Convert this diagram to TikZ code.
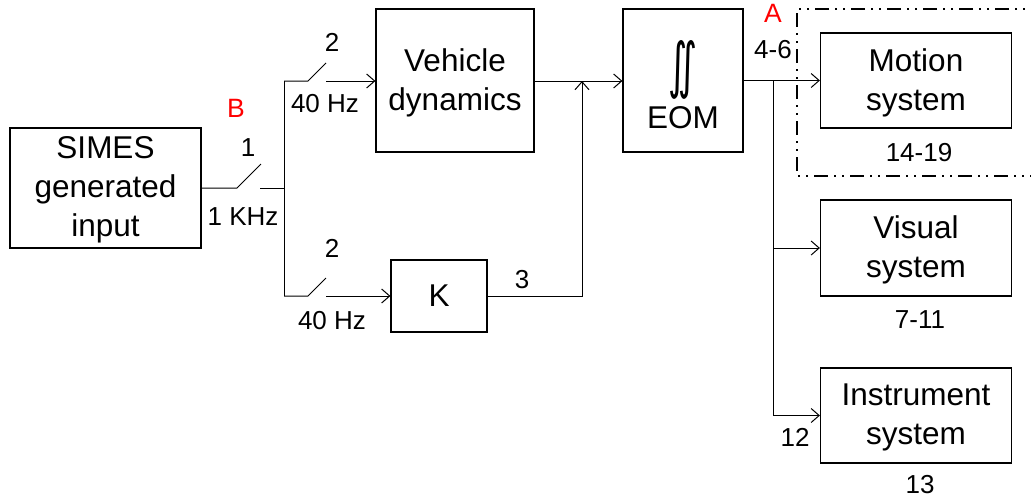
\documentclass[tikz,border=0pt]{standalone}
\usepackage{fontspec}
\setmainfont{Liberation Sans}
\newfontfamily\djvfont{DejaVu Sans}
\usetikzlibrary{arrows.meta}
\begin{document}
\begin{tikzpicture}[x=1pt,y=-1pt, line width=1pt,
 blk/.style={draw, line width=1.2pt, inner sep=0pt, align=center, font=\fontsize{31.5}{39}\selectfont},
 btxt/.style={inner sep=0pt, align=center, font=\fontsize{31.5}{39}\selectfont},
 lbl/.style={inner sep=0pt, font=\fontsize{26}{30}\selectfont},
 redlbl/.style={inner sep=0pt, text=red, font=\fontsize{26.5}{30}\selectfont},
 arr/.style={-{Straight Barb[length=8pt,width=14pt]}},
 ddbox/.style={line width=2.5pt, dash pattern=on 14pt off 6pt on 2pt off 6pt on 2pt off 6pt}
]
\useasboundingbox (0,0) rectangle (1031,501);
% blocks
\node[blk, minimum width=191pt, minimum height=120pt] (simes) at (105.5,188) {};
\node[btxt] (simest) at (105.5,190) {SIMES\\generated\\input};
\node[blk, minimum width=158pt, minimum height=143pt] (veh) at (455,80.5) {};
\node[btxt] (veht) at (455,82.5) {Vehicle\\dynamics};
\node[blk, minimum width=96pt, minimum height=72pt] (k) at (439,296) {K};
\node[blk, minimum width=120pt, minimum height=143pt] (eom) at (683,80.5) {};
\node[inner sep=0pt] (int) at (683,70) {\resizebox{29pt}{46pt}{\djvfont ∬}};
\node[btxt] (eomt) at (683,118) {EOM};
\node[blk, minimum width=191pt, minimum height=95pt] (motion) at (916,80.5) {};
\node[btxt] (motiont) at (916,82.5) {Motion\\system};
\node[blk, minimum width=191pt, minimum height=96pt] (visual) at (916,248) {};
\node[btxt] (visualt) at (916,250) {Visual\\system};
\node[blk, minimum width=191pt, minimum height=95pt] (instr) at (916,415.5) {};
\node[btxt] (instrt) at (916,417.5) {Instrument\\system};
% coordinates
\coordinate (s1a) at (237,188); \coordinate (s1b) at (261,164); \coordinate (s1c) at (260,188);
\coordinate (j1top) at (284,81); \coordinate (j1mid) at (284,188); \coordinate (j1bot) at (284,296);
\coordinate (s2a) at (308,81); \coordinate (s2b) at (326,63); \coordinate (s2c) at (326,81);
\coordinate (s3a) at (308,296); \coordinate (s3b) at (326,278); \coordinate (s3c) at (326,296);
\coordinate (m1) at (582,81); \coordinate (m2) at (582,296);
\coordinate (j2) at (773,80.5); \coordinate (j2v) at (773,248); \coordinate (j2i) at (773,415.5);
% connectors
\draw (simes.east) -- (s1a) -- (s1b);
\draw (s1c) -- (j1mid);
\draw (j1top) -- (j1bot);
\draw (j1top) -- (s2a) -- (s2b);
\draw[arr] (s2c) -- (veh.west |- s2c);
\draw (j1bot) -- (s3a) -- (s3b);
\draw[arr] (s3c) -- (k.west);
\draw[arr] (veh.east |- m1) -- (eom.west |- m1);
\draw[arr] (k.east) -- (m2) -- (m1);
\draw[arr] (eom.east) -- (motion.west);
\draw (j2) -- (j2i);
\draw[arr] (j2v) -- (visual.west);
\draw[arr] (j2i) -- (instr.west);
% dash-dot group box
\draw[ddbox] (1045,9) -- (797,9) -- (797,176) -- (1045,176);
% labels
\node[lbl] (l2a) at (332,42) {2};
\node[lbl] (f2a) at (325,104) {40 Hz};
\node[redlbl] (lB) at (236,108) {B};
\node[lbl] (l1) at (248,148) {1};
\node[lbl] (f1) at (243,217) {1 KHz};
\node[lbl] (l2b) at (332,248) {2};
\node[lbl] (f2b) at (332,321) {40 Hz};
\node[lbl] (l3) at (522,280) {3};
\node[redlbl] (lA) at (773,13) {A};
\node[lbl] (l46) at (773,50) {4-6};
\node[lbl] (l1419) at (919,153) {14-19};
\node[lbl] (l711) at (920,320) {7-11};
\node[lbl] (l13) at (920,485) {13};
\node[lbl] (l12) at (795,437) {12};
\end{tikzpicture}
\end{document}
